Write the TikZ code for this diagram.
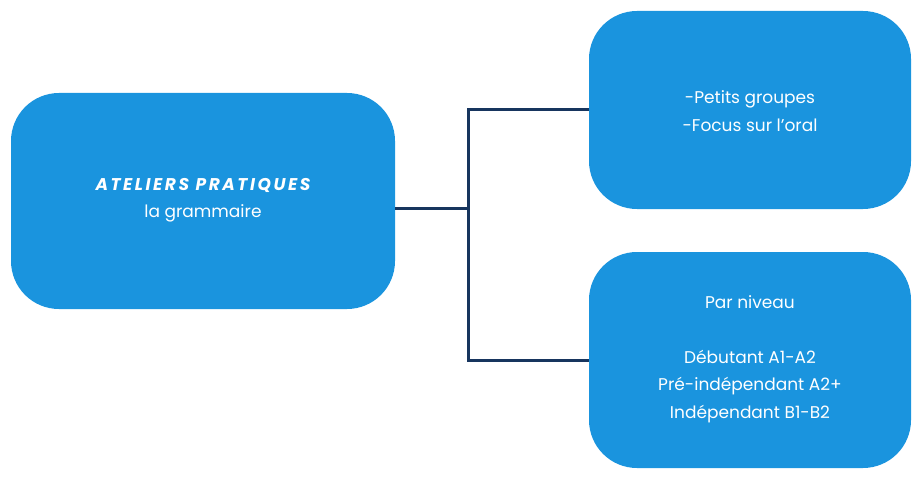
\documentclass[tikz,border=0pt]{standalone}
\usepackage{fontspec}
\setmainfont{Poppins}
\newfontfamily\titlefont[LetterSpace=15]{Poppins}
\definecolor{boxblue}{HTML}{1A94DE}
\definecolor{navy}{HTML}{17355E}
\begin{document}
\begin{tikzpicture}[x=1pt,y=-1pt,
  boxfill/.style={fill=boxblue, rounded corners=48pt},
  boxtext/.style={text=white, align=center, font=\fontsize{17}{27.5}\selectfont, inner sep=0pt},
  link/.style={draw=navy, line width=3pt}]
\useasboundingbox (0,0) rectangle (923,481);
\fill[boxfill] (11,93) rectangle (395,309);
\fill[boxfill] (589,11) rectangle (911,209);
\fill[boxfill] (589,252) rectangle (911,468);
\node[boxtext] (L) at (203,200) {{\titlefont\bfseries\itshape ATELIERS PRATIQUES}\\la grammaire};
\node[boxtext] (T) at (750,111) {-Petits groupes\\-Focus sur l'oral};
\node[boxtext] (B) at (750,359) {Par niveau\\[27.5pt]Débutant A1-A2\\Pré-indépendant A2+\\Indépendant B1-B2};
\coordinate (Lr) at (395,208);
\coordinate (J) at (468,208);
\coordinate (Tl) at (589,110);
\coordinate (Bl) at (589,360);
\draw[link] (Lr) -- (J);
\draw[link] (Tl) -| (J) |- (Bl);
\end{tikzpicture}
\end{document}
